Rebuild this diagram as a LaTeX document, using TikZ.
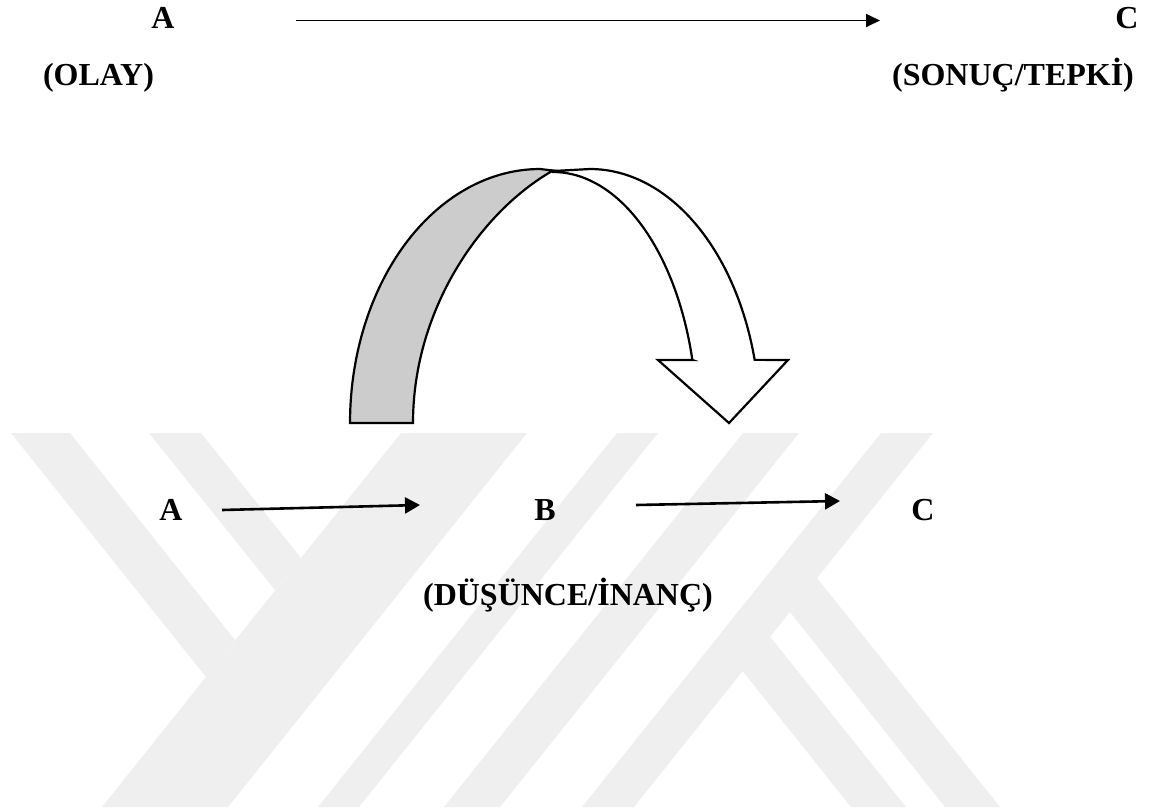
\documentclass[tikz,border=0pt]{standalone}
\usepackage{fontspec}
\setmainfont{Liberation Serif}
\usetikzlibrary{arrows.meta}
\definecolor{wm}{RGB}{239,239,239}
\definecolor{bandgray}{RGB}{204,204,204}
\begin{document}
\begin{tikzpicture}[x=0.5pt,y=-0.5pt,
  lbl/.style={anchor=base,inner sep=0pt,font=\fontsize{16}{19}\selectfont\bfseries},
  conn/.style={line width=1.3pt,-{Triangle[length=7.5pt,width=8pt]}},
  topconn/.style={line width=0.85pt,-{Triangle[length=7pt,width=6.5pt]}},
  ribbon/.style={line width=1.1pt,draw=black,line join=miter},
  wmband/.style={fill=wm,draw=none}]
\useasboundingbox (0,0) rectangle (1152,810);
\fill[white] (0,0) rectangle (1152,810);
% watermark
\fill[wmband] (11,433) -- (70,433) -- (235,640) -- (206,677) -- cycle;
\fill[wmband] (149,433) -- (201,433) -- (301,558) -- (275,590) -- cycle;
\fill[wmband] (401,433) -- (527,433) -- (228,807) -- (102,807) -- cycle;
\fill[wmband] (617,433) -- (658,433) -- (359,807) -- (318,807) -- cycle;
\fill[wmband] (743,433) -- (799,433) -- (500,807) -- (444,807) -- cycle;
\fill[wmband] (881,433) -- (933,433) -- (634,807) -- (582,807) -- cycle;
\fill[wmband] (817,578) -- (1000,807) -- (945,807) -- (790,612) -- cycle;
\fill[wmband] (744,604) -- (906,807) -- (851,807) -- (717,639) -- cycle;
% top row
\node[lbl] (A1) at (163,28) {A};
\node[lbl] (C1) at (1127,28) {C};
\node[lbl] (olay) at (98.5,85) {(OLAY)};
\node[lbl] (sonuc) at (1013,85) {(SONUÇ/TEPKİ)};
\coordinate (t1) at (296,20.5);
\coordinate (t2) at (880,20.5);
\draw[topconn] (t1) -- (t2);
% curved arrow
\filldraw[ribbon,fill=bandgray]
  plot[domain=180:90,samples=60] ({540+190*cos(\x)},{423-254*sin(\x)})
  -- (553,170.5)
  .. controls (480,212) and (413,310) .. (413,423) -- cycle;
\filldraw[ribbon,fill=white]
  (553,171) -- (590,169)
  -- plot[domain=90:14.4,samples=60] ({590+170*cos(\x)},{423-254*sin(\x)})
  -- (788,360) -- (729,423) -- (658,360) -- (692.4,360)
  -- plot[domain=14.54:90,samples=60] ({553+144*cos(\x)},{423-251*sin(\x)})
  -- cycle;
% bottom row
\node[lbl] (A2) at (171,520) {A};
\node[lbl] (B2) at (545,520) {B};
\node[lbl] (C2) at (923,520) {C};
\node[lbl] (dus) at (568,605) {(DÜŞÜNCE/İNANÇ)};
\coordinate (a1) at (222,510);
\coordinate (a2) at (420,505);
\coordinate (b1) at (636,505);
\coordinate (b2) at (840,501);
\draw[conn] (a1) -- (a2);
\draw[conn] (b1) -- (b2);
\end{tikzpicture}
\end{document}
